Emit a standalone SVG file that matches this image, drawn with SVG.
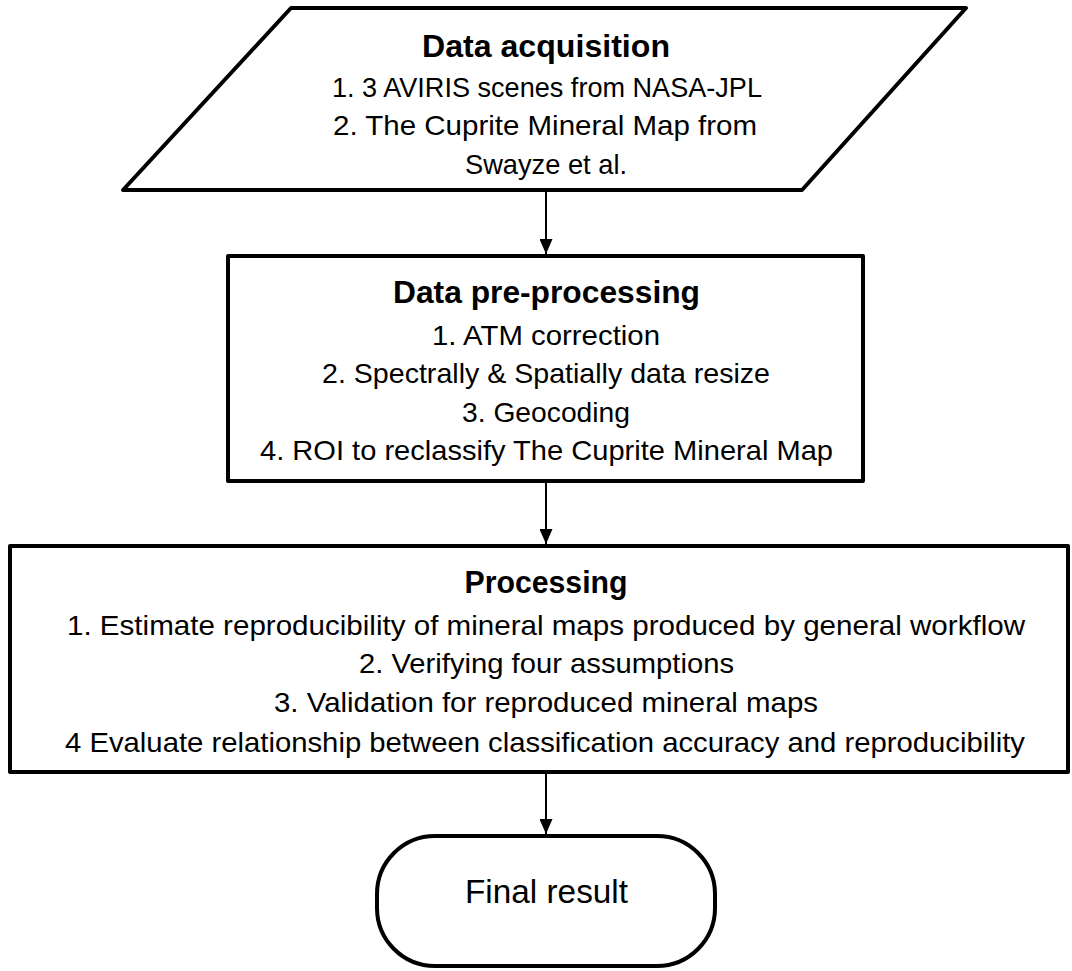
<svg xmlns="http://www.w3.org/2000/svg" width="1072" height="971" viewBox="0 0 1072 971">
<style>
.shape{fill:#fff;stroke:#000;stroke-width:4;stroke-linejoin:round}
.t{font-family:"Liberation Sans",Arial,sans-serif;font-size:28.5px;fill:#000;text-anchor:middle}
.h{font-weight:bold;font-size:32px}
.conn{stroke:#000;stroke-width:2;fill:none}
</style>
<defs>
<marker id="arr" viewBox="0 0 15 13" refX="15" refY="6.5" markerWidth="15" markerHeight="13" markerUnits="userSpaceOnUse" orient="auto">
<path d="M0,0 L15,6.5 L0,13 Z" fill="#000"/>
</marker>
</defs>
<rect width="1072" height="971" fill="#fff"/>
<g id="connectors">
<line class="conn" x1="546" y1="191" x2="546" y2="254" marker-end="url(#arr)"/>
<line class="conn" x1="546" y1="482" x2="546" y2="544" marker-end="url(#arr)"/>
<line class="conn" x1="546" y1="772" x2="546" y2="834" marker-end="url(#arr)"/>
</g>
<g id="acquisition">
<polygon class="shape" points="291,8 966,8 802,190 123,190"/>
<text class="t h" x="546" y="57" textLength="248" lengthAdjust="spacingAndGlyphs">Data acquisition</text>
<text class="t" x="547" y="97" textLength="430" lengthAdjust="spacingAndGlyphs">1. 3 AVIRIS scenes from NASA-JPL</text>
<text class="t" x="545" y="135" textLength="424" lengthAdjust="spacingAndGlyphs">2. The Cuprite Mineral Map from</text>
<text class="t" x="546" y="174" textLength="162" lengthAdjust="spacingAndGlyphs">Swayze et al.</text>
</g>
<g id="preprocessing">
<rect class="shape" x="228" y="256" width="635" height="225"/>
<text class="t h" x="546.5" y="303" textLength="307" lengthAdjust="spacingAndGlyphs">Data pre-processing</text>
<text class="t" x="546" y="345" textLength="228" lengthAdjust="spacingAndGlyphs">1. ATM correction</text>
<text class="t" x="546" y="383" textLength="448" lengthAdjust="spacingAndGlyphs">2. Spectrally &amp; Spatially data resize</text>
<text class="t" x="546" y="422" textLength="168" lengthAdjust="spacingAndGlyphs">3. Geocoding</text>
<text class="t" x="546.5" y="460" textLength="573" lengthAdjust="spacingAndGlyphs">4. ROI to reclassify The Cuprite Mineral Map</text>
</g>
<g id="processing">
<rect class="shape" x="10" y="546" width="1058" height="226"/>
<text class="t h" x="546" y="593" textLength="163" lengthAdjust="spacingAndGlyphs">Processing</text>
<text class="t" x="546" y="635" textLength="958" lengthAdjust="spacingAndGlyphs">1. Estimate reproducibility of mineral maps produced by general workflow</text>
<text class="t" x="546.5" y="673" textLength="375" lengthAdjust="spacingAndGlyphs">2. Verifying four assumptions</text>
<text class="t" x="546" y="712" textLength="544" lengthAdjust="spacingAndGlyphs">3. Validation for reproduced mineral maps</text>
<text class="t" x="545" y="752" textLength="960" lengthAdjust="spacingAndGlyphs">4 Evaluate relationship between classification accuracy and reproducibility</text>
</g>
<g id="final">
<rect class="shape" x="377" y="836" width="338" height="130" rx="58" ry="58"/>
<text class="t" x="546.5" y="903" style="font-size:33px" textLength="163" lengthAdjust="spacingAndGlyphs">Final result</text>
</g>
</svg>
